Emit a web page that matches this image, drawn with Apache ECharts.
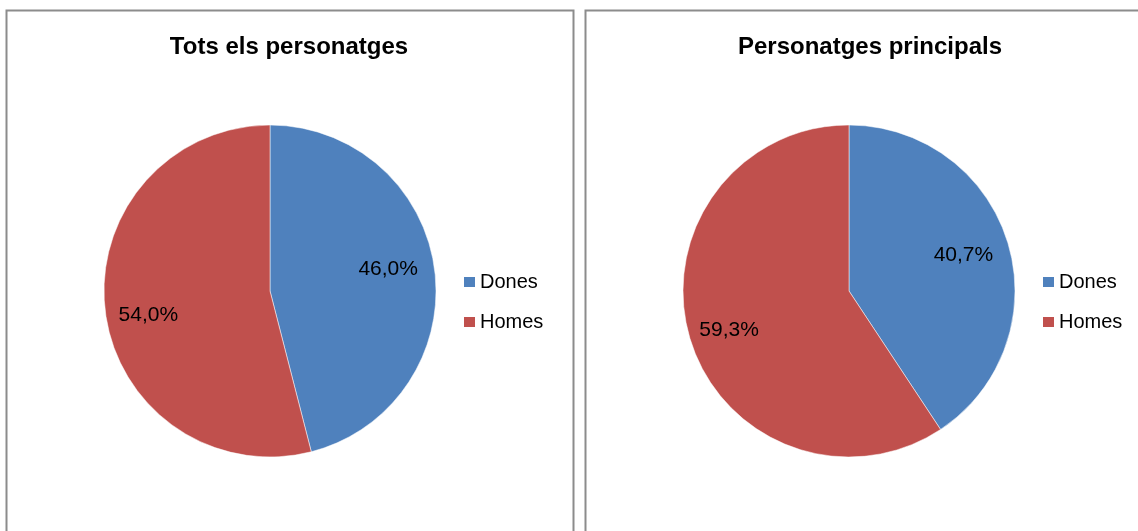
<!DOCTYPE html>
<html>
<head>
<meta charset="utf-8">
<script src="https://cdn.jsdelivr.net/npm/echarts@6/dist/echarts.min.js"></script>
<style>
html,body{margin:0;padding:0;background:#fff;}
#c{width:1138px;height:531px;}
</style>
</head>
<body>
<div id="c"></div>
<script>
const categories = ['Dones', 'Homes'];
const titles = ['Tots els personatges', 'Personatges principals'];
const valuesAll = [46.0, 54.0];
const valuesMain = [40.7, 59.3];
const colors = ['#4F81BD', '#C0504D'];

// styling: small per-label nudges (px) to mimic the original label placement
const labelNudges = [[[-5, -6], [1.5, 9]], [[-4.5, -0.5], [-1, 3.5]]];

const FONT = '"Liberation Sans", Arial, sans-serif';
const chart = echarts.init(document.getElementById('c'));

function fmt(p) { return p.value.toFixed(1).replace('.', ',') + '%'; }

const centers = [[270, 291], [849, 291]];
const R = 166;
const sets = [valuesAll, valuesMain];

const series = [];
sets.forEach((vals, k) => {
  series.push({
    type: 'pie', center: centers[k], radius: [0, R], startAngle: 90, clockwise: true,
    data: categories.map((n, i) => ({ name: n, value: vals[i], itemStyle: { color: colors[i] } })),
    label: { show: false }, labelLine: { show: false },
    itemStyle: { borderColor: '#fff', borderWidth: 0.5 },
    emphasis: { disabled: true }, silent: true, animation: false
  });
});
sets.forEach((vals, k) => {
  series.push({
    type: 'pie', center: centers[k], radius: [0, R * 1.46], startAngle: 90, clockwise: true,
    data: categories.map((n, i) => ({ name: n, value: vals[i], itemStyle: { color: 'rgba(0,0,0,0)' },
      label: { offset: labelNudges[k][i] } })),
    label: { show: true, position: 'inside', formatter: fmt, color: '#000', fontSize: 21, fontFamily: FONT },
    labelLine: { show: false }, emphasis: { disabled: true }, silent: true, animation: false, z: 3
  });
});

const legendBase = { orient: 'vertical', top: 272, padding: 0, data: categories, icon: 'rect', itemWidth: 11, itemHeight: 10, itemGap: 20, selectedMode: false,
  itemStyle: { borderWidth: 0 },
  textStyle: { fontFamily: FONT, fontSize: 20, lineHeight: 20, color: '#000' } };

chart.setOption({
  animation: false,
  backgroundColor: '#fff',
  title: [
    { text: titles[0], left: 284, top: 30, textAlign: 'center', textStyle: { fontFamily: FONT, fontWeight: 'bold', fontSize: 24, color: '#000' } },
    { text: titles[1], left: 865, top: 30, textAlign: 'center', textStyle: { fontFamily: FONT, fontWeight: 'bold', fontSize: 24, color: '#000' } }
  ],
  legend: [
    Object.assign({}, legendBase, { left: 464 }),
    Object.assign({}, legendBase, { left: 1043 })
  ],
  graphic: [
    { type: 'polyline', shape: { points: [[6.5, 540], [6.5, 10.5], [573.5, 10.5], [573.5, 540]] }, style: { stroke: '#8c8c8c', lineWidth: 2, fill: null } },
    { type: 'polyline', shape: { points: [[585.5, 540], [585.5, 10.5], [1145, 10.5]] }, style: { stroke: '#8c8c8c', lineWidth: 2, fill: null } }
  ],
  series: series
});
</script>
</body>
</html>
